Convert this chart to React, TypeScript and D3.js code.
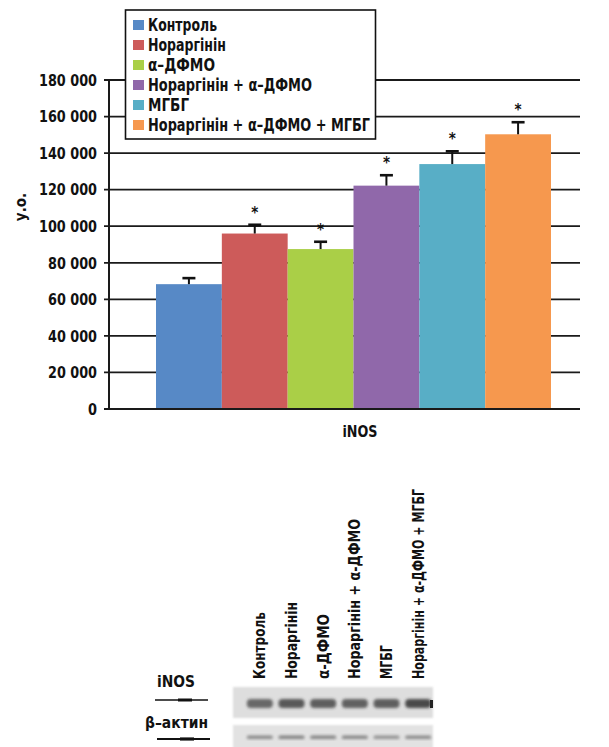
import React from "react";
import * as d3 from "d3";

const categories = [
  "Контроль",
  "Нораргінін",
  "α–ДФМО",
  "Нораргінін + α–ДФМО",
  "МГБГ",
  "Нораргінін + α–ДФМО + МГБГ",
];
const values = [68300, 96000, 87500, 122200, 134000, 150300];
const errors = [3300, 4800, 4000, 5700, 7000, 6600];
const significant = [false, true, true, true, true, true];
const colors = ["#5789c6", "#cd5b5a", "#aacf47", "#9068aa", "#58aec6", "#f6984e"];
const yTicks = [0, 20000, 40000, 60000, 80000, 100000, 120000, 140000, 160000, 180000];
const blotLanes = ["Контроль", "Нораргінін", "α-ДФМО", "Нораргінін + α-ДФМО", "МГБГ", "Нораргінін + α-ДФМО + МГБГ"];
const inosBand = [0.72, 0.82, 0.78, 0.76, 0.78, 0.9];
const actinBand = [0.55, 0.6, 0.58, 0.57, 0.5, 0.55];

const legendTextWidths = [69, 78, 67, 164, 41, 222];
const blotTextWidths = [67, 77, 65, 160, 34, 190];

const FONT = "'Liberation Sans Narrow', 'DejaVu Sans Condensed', 'Roboto Condensed', 'Arial Narrow', sans-serif";

export default function App() {
  const W = 609, H = 747;
  const y = d3.scaleLinear().domain([0, 180000]).range([409, 80]);
  const x = d3.scaleBand<string>().domain(categories).range([156, 551]).paddingInner(0).paddingOuter(0);
  const axisX = 109, rightX = 580;
  const fmt = (v: number) => d3.format(",")(v).replace(/,/g, " ");
  const tickWidth = (s: string) => {
    const digits = s.replace(/ /g, "").length;
    const spaces = s.length - digits;
    return digits * 9 + spaces * 4;
  };

  const lane = d3.scaleBand<string>().domain(blotLanes).range([244, 434]);

  return (
    <div style={{ position: "absolute", left: 0, top: 0 }}>
      <svg width={W} height={H} style={{ display: "block", background: "#fff" }} fontFamily={FONT}>
        <defs>
          <filter id="blur1" x="-20%" y="-50%" width="140%" height="200%">
            <feGaussianBlur stdDeviation="1.6" />
          </filter>
          <filter id="blur2" x="-5%" y="-20%" width="110%" height="140%">
            <feGaussianBlur stdDeviation="1.2" />
          </filter>
        </defs>
        {/* gridlines */}
        {yTicks.map((t) => {
          const s = fmt(t);
          return (
            <g key={t}>
              <line x1={axisX - 5} x2={rightX} y1={y(t)} y2={y(t)} stroke="#1a1a1a" strokeWidth={1.8} />
              <text
                x={97}
                y={y(t)}
                dy="0.36em"
                textAnchor="end"
                fontSize={16}
                fontWeight="bold"
                fill="#111"
                textLength={tickWidth(s)}
                lengthAdjust="spacingAndGlyphs"
              >
                {s}
              </text>
            </g>
          );
        })}
        {/* bars */}
        {categories.map((c, i) => (
          <rect key={c} x={x(c)} y={y(values[i])} width={x.bandwidth()} height={y(0) - y(values[i])} fill={colors[i]} />
        ))}
        {/* error bars */}
        {categories.map((c, i) => {
          const cx = (x(c) as number) + x.bandwidth() / 2;
          const top = y(values[i] + errors[i]);
          return (
            <g key={c + "e"}>
              <line x1={cx} x2={cx} y1={y(values[i])} y2={top} stroke="#111" strokeWidth={2} />
              <line x1={cx - 6.5} x2={cx + 6.5} y1={top} y2={top} stroke="#111" strokeWidth={2.6} />
              {significant[i] && (
                <text x={cx} y={top - 7} textAnchor="middle" fontSize={15} fontWeight="bold" fill="#111">
                  *
                </text>
              )}
            </g>
          );
        })}
        {/* axes */}
        <line x1={axisX} x2={axisX} y1={y(180000) - 1} y2={y(0) + 1} stroke="#1a1a1a" strokeWidth={2} />
        <line x1={axisX - 5} x2={rightX} y1={y(0)} y2={y(0)} stroke="#1a1a1a" strokeWidth={2} />
        <text transform="translate(26,207) rotate(-90)" textAnchor="middle" fontSize={15} fontWeight="bold" fill="#111">
          у.о.
        </text>
        <text x={360} y={437} textAnchor="middle" fontSize={16} fontWeight="bold" fill="#111" textLength={35} lengthAdjust="spacingAndGlyphs">
          iNOS
        </text>
        {/* legend */}
        <rect x={125.5} y={10} width={250} height={129} fill="#fff" stroke="#111" strokeWidth={1.6} />
        {categories.map((c, i) => (
          <g key={c + "l"} transform={`translate(0,${25 + i * 20})`}>
            <rect x={133} y={-5} width={11} height={10} fill={colors[i]} />
            <text
              x={148}
              y={0}
              dy="0.37em"
              fontSize={17}
              fontWeight="bold"
              fill="#111"
              textLength={legendTextWidths[i]}
              lengthAdjust="spacingAndGlyphs"
            >
              {c}
            </text>
          </g>
        ))}
        {/* blot labels */}
        {blotLanes.map((l, i) => {
          const cx = (lane(l) as number) + lane.bandwidth() / 2;
          return (
            <text
              key={l + "b"}
              transform={`translate(${cx + 5.5},679) rotate(-90)`}
              fontSize={16}
              fontWeight="bold"
              fill="#111"
              textLength={blotTextWidths[i]}
              lengthAdjust="spacingAndGlyphs"
            >
              {l}
            </text>
          );
        })}
        <text x={176} y={687} textAnchor="middle" fontSize={16} fontWeight="bold" fill="#111" textLength={38} lengthAdjust="spacingAndGlyphs">iNOS</text>
        <line x1={155} x2={208} y1={700} y2={700} stroke="#111" strokeWidth={1.6} />
        <line x1={178} x2={192} y1={700} y2={700} stroke="#111" strokeWidth={3} />
        <text x={145} y={728} fontSize={16} fontWeight="bold" fill="#111" textLength={63} lengthAdjust="spacingAndGlyphs">β–актин</text>
        <line x1={157} x2={210} y1={739} y2={739} stroke="#111" strokeWidth={2.2} />
        <line x1={180} x2={194} y1={739} y2={739} stroke="#111" strokeWidth={3.2} />
        {/* blot panels */}
        <rect x={233} y={687} width={200} height={31} fill="#dedede" filter="url(#blur2)" />
        <rect x={233} y={725} width={200} height={30} fill="#e2e2e2" filter="url(#blur2)" />
        {blotLanes.map((l, i) => {
          const cx = (lane(l) as number) + lane.bandwidth() / 2;
          return (
            <g key={l + "band"}>
              <rect x={cx - 13} y={699} width={26} height={9} rx={4} fill="#3a3a3a" opacity={inosBand[i]} filter="url(#blur1)" />
              <rect x={cx - 13} y={735.5} width={26} height={3.5} rx={1.5} fill="#444" opacity={actinBand[i]} filter="url(#blur1)" />
            </g>
          );
        })}
        <rect x={430} y={700} width={3} height={8} fill="#222" />
      </svg>
    </div>
  );
}
